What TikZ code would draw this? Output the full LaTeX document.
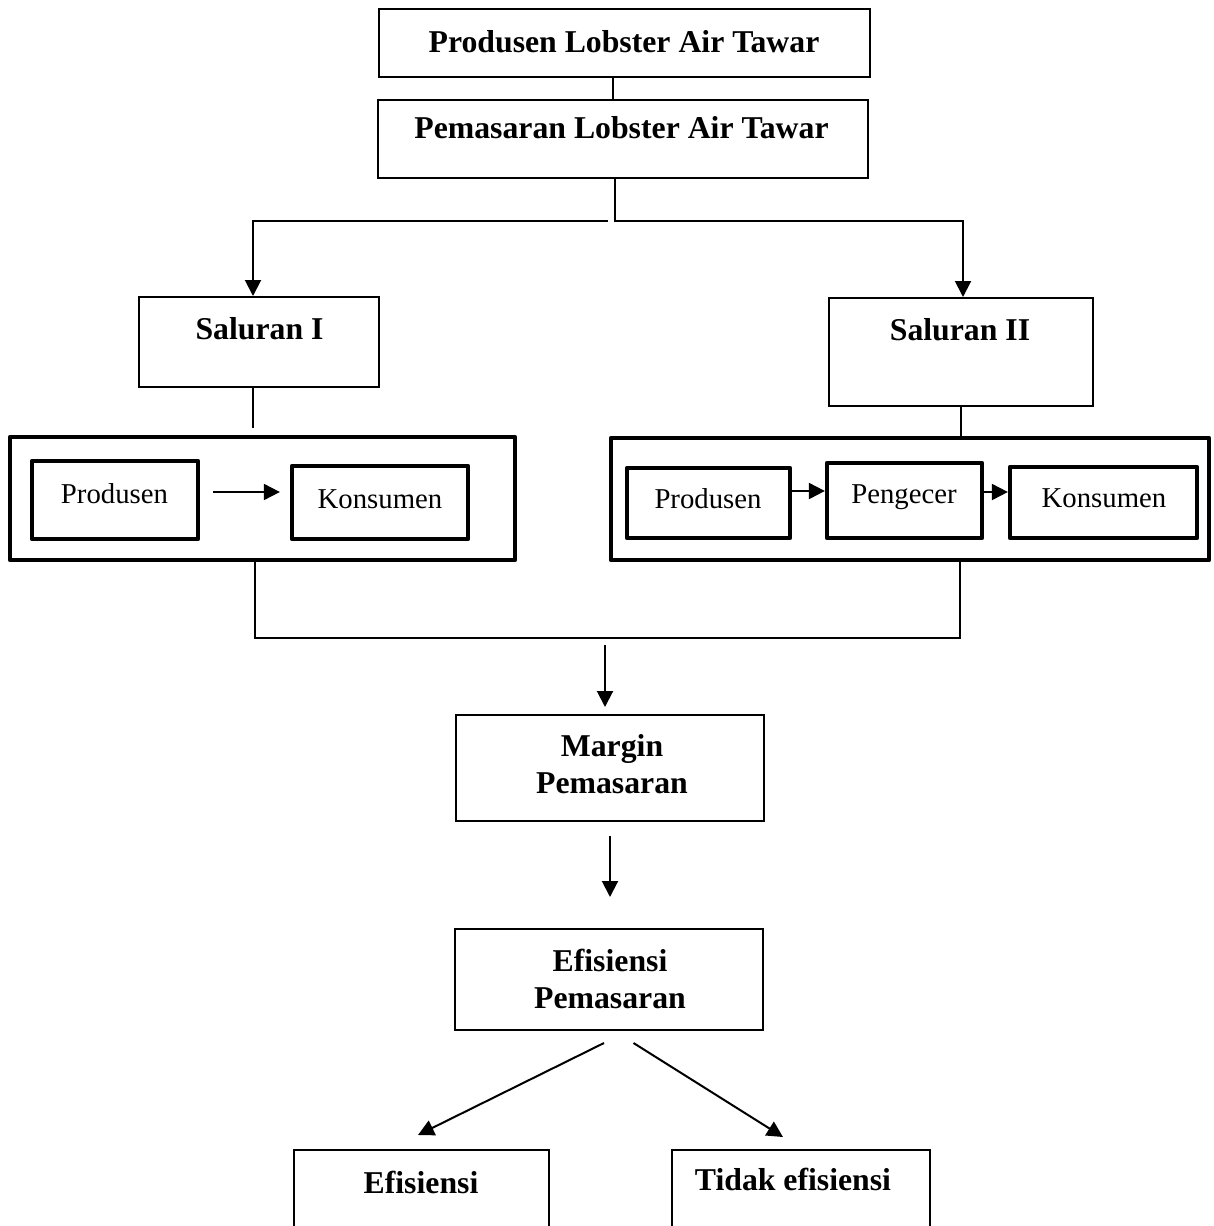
\documentclass[tikz,border=0pt]{standalone}
\usepackage{fontspec}
\setmainfont{Liberation Serif}
\usetikzlibrary{arrows.meta}

\tikzstyle{box}=[draw, line width=0.8pt, inner sep=0pt]
\tikzstyle{chan}=[draw, line width=1.7pt, line join=round, inner sep=0pt]
\tikzstyle{btext}=[font=\fontsize{12.7}{14.8}\selectfont\bfseries, inner sep=0pt, anchor=base, align=center]
\tikzstyle{rtext}=[font=\fontsize{11.5}{14}\selectfont, inner sep=0pt, anchor=base]
\tikzstyle{link}=[line width=0.7pt]
\tikzstyle{arr}=[line width=0.8pt, -{Triangle[width=6.4pt,length=6.4pt]}]
\tikzset{sz/.style 2 args={minimum width=#1*0.4pt, minimum height=#2*0.4pt}}

\begin{document}
\begin{tikzpicture}[x=0.4pt, y=-0.4pt]
			\useasboundingbox (0,0) rectangle (1213,1226);
			%The plain boxes
			\foreach \pos/\name/\w/\h in 	{{(624.5,43)/prod/491/68},	{(623,139)/pem/490/78},
									 {(259,342)/sal1/240/90},	{(961,352)/sal2/264/108},
									 {(610,768)/mar/308/106},	{(609,979.5)/efp/308/101},
									 {(421,1225)/ef/255/150},	{(801,1225)/tef/258/150}}
			\node[box, sz={\w}{\h}] (\name) at \pos {};
			%The channel boxes
			\foreach \pos/\name/\w/\h in 	{{(262.5,498.5)/ch1/505/123},	{(910,499)/ch2/598/122},
									 {(115,500)/p1/166/78},		{(380,502.5)/k1/176/73},
									 {(708.5,503)/p2/163/70},		{(904.5,500.5)/g2/155/75},
									 {(1103.5,502.5)/k2/187/71}}
			\node[chan, sz={\w}{\h}] (\name) at \pos {};
			%Bold labels
			\foreach \pos/\name/\txt in 	{{(624,52)/tprod/Produsen Lobster Air Tawar},
									 {(621.5,138)/tpem/Pemasaran Lobster Air Tawar},
									 {(259.5,339)/tsal1/Saluran I},	{(960,340)/tsal2/Saluran II},
									 {(421,1193)/tef/Efisiensi},	{(793,1190)/ttef/Tidak efisiensi}}
			\node[btext] (\name) at \pos {\txt};
			\node[btext, anchor=center] (tmar) at (612,764) {Margin\\Pemasaran};
			\node[btext, anchor=center] (tefp) at (610,979) {Efisiensi\\Pemasaran};
			%Channel labels
			\foreach \pos/\name/\txt in 	{{(114.5,503)/tp1/Produsen},	{(380,508)/tk1/Konsumen},
									 {(708,508)/tp2/Produsen},		{(904,503)/tg2/Pengecer},
									 {(1104,507)/tk2/Konsumen}}
			\node[rtext] (\name) at \pos {\txt};
			%Top connectors
			\coordinate (j0) at (613,0);
			\coordinate (split) at (615,222);
			\coordinate (gapl) at (608,221);
			\coordinate (gapr) at (615,221);
			\draw[link] (prod.south -| j0) -- (pem.north -| j0);
			\draw[link] (pem.south -| split) -- (split);
			\draw[arr] (gapl) -| ([xshift=-2.4pt]sal1.north);
			\draw[arr] (gapr) -| ([xshift=0.8pt]sal2.north);
			\draw[link, shorten >=3.6pt] ([xshift=-2.4pt]sal1.south) -- ++(0,49);
			\draw[link] (sal2.south) -- (sal2.south |- ch2.north);
			%Inside the channels
			\coordinate (a1) at (213,492);
			\coordinate (a2) at (790,491);
			\coordinate (a3) at (982,492);
			\draw[arr, shorten >=4pt] (a1) -- (a1 -| k1.west);
			\draw[arr] (p2.east |- a2) -- (a2 -| g2.west);
			\draw[arr] (g2.east |- a3) -- (a3 -| k2.west);
			%Joining the channels
			\coordinate (bj) at (960,638);
			\coordinate (mj) at (605,645);
			\draw[link] ([xshift=-3pt]ch1.south) |- (bj) -- (ch2.south -| bj);
			\draw[arr, shorten >=2.8pt] (mj) -- (mar.north -| mj);
			\draw[arr, shorten <=5.6pt, shorten >=12.4pt] (mar.south) -- (efp.north -| mar.south);
			%Efficiency split
			\coordinate (d1) at (604,1043);
			\coordinate (d2) at (633.5,1043);
			\coordinate (e1) at (418,1135);
			\coordinate (e2) at (783,1137);
			\draw[arr] (d1) -- (e1);
			\draw[arr] (d2) -- (e2);
		\end{tikzpicture}
\end{document}
